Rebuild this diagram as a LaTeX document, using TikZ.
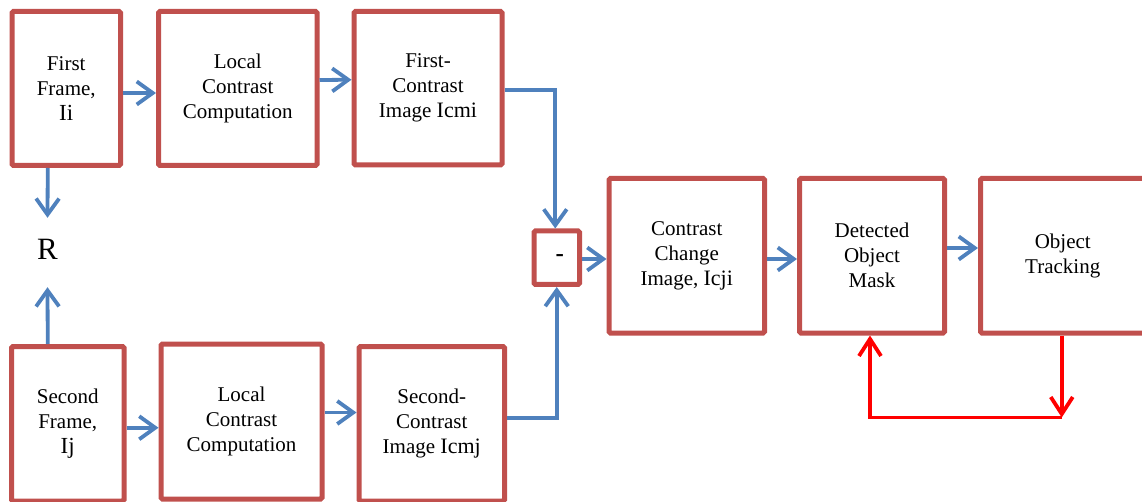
\documentclass[tikz,border=0pt]{standalone}
\usepackage{fontspec}
\setmainfont{Liberation Serif}
\usetikzlibrary{arrows.meta}
\definecolor{boxred}{HTML}{C0504D}
\definecolor{arrblue}{HTML}{4F81BD}
\definecolor{fbred}{HTML}{FF0000}
\begin{document}
\begin{tikzpicture}[x=1pt,y=-1pt,
  box/.style={draw=boxred, line width=5pt, rounded corners=1.5pt, inner sep=0pt,
    align=center, font=\fontsize{21}{25}\selectfont},
  barrow/.style={draw=arrblue, line width=3.8pt, line join=miter,
    -{Straight Barb[length=16pt,width=23pt]}},
  rarrow/.style={draw=fbred, line width=3.8pt,
    -{Straight Barb[length=17pt,width=22pt]}}
]
\useasboundingbox (0,0) rectangle (1142,502);

% top row
\node[box, minimum width=108.5pt, minimum height=154pt] (ff) at (66.25,88.5)
  {First\\Frame,\\{\fontsize{23}{25}\selectfont Ii}};
\node[box, minimum width=158.5pt, minimum height=154pt] (lc1) at (237.75,88.5)
  {Local\\Contrast\\Computation};
\node[box, minimum width=148pt, minimum height=153.5pt] (fc) at (428,88.25)
  {First-\\Contrast\\Image {\fontsize{22}{25}\selectfont Icmi}};

% R
\node[inner sep=0pt, minimum height=62pt, font=\fontsize{31}{31}\selectfont] (R) at (47.5,249) {R};

% bottom row
\node[box, minimum width=112.5pt, minimum height=154.5pt] (sf) at (67.75,423.75)
  {Second\\Frame,\\{\fontsize{23}{25}\selectfont Ij}};
\node[box, minimum width=161pt, minimum height=155pt] (lc2) at (241.5,421.5)
  {Local\\Contrast\\Computation};
\node[box, minimum width=145.5pt, minimum height=154.5pt] (sc) at (431.75,423.75)
  {Second-\\Contrast\\Image {\fontsize{22}{25}\selectfont Icmj}};

% minus
\node[box, minimum width=45.5pt, minimum height=53.5pt] (minus) at (556.75,257.75)
  {\hspace*{6pt}\raisebox{-4pt}{\fontsize{25}{25}\selectfont\textbf{-}}};

% right row
\node[box, minimum width=155.5pt, minimum height=154.5pt] (cc) at (686.75,255.75)
  {Contrast\\Change\\Image, {\fontsize{22}{25}\selectfont Icji}};
\node[box, minimum width=145pt, minimum height=154.5pt] (dom) at (872,255.75)
  {Detected\\Object\\Mask};
\node[box, minimum width=164.5pt, minimum height=154.5pt] (ot) at (1062.75,255.75)
  {Object\\Tracking};

% blue connectors
\draw[barrow] ([yshift=-4.5pt]ff.east) -- ([yshift=-4.5pt]lc1.west);
\draw[barrow] ([yshift=8.5pt]lc1.east) -- ([yshift=8.5pt]fc.west);
\draw[barrow] ([yshift=-1.75pt]fc.east) -| ([xshift=-1.5pt]minus.north);
\draw[barrow] ([xshift=-18.5pt]ff.south) -- (R.north);
\draw[barrow] ([xshift=-20pt]sf.north) -- ([yshift=-7pt]R.south);
\draw[barrow] ([yshift=-4pt]sf.east) -- ([yshift=-6.25pt]lc2.west);
\draw[barrow] ([yshift=9pt]lc2.east) -- ([yshift=11.25pt]sc.west);
\draw[barrow] ([yshift=5.75pt]sc.east) -| (minus.south);
\draw[barrow] ([yshift=-1.25pt]minus.east) coordinate (m1) -- (m1 -| cc.west);
\draw[barrow] ([yshift=-3.25pt]cc.east) -- ([yshift=-3.25pt]dom.west);
\draw[barrow] ([yshift=7.75pt]dom.east) -- ([yshift=7.75pt]ot.west);

% red feedback
\coordinate (fb) at (1061.75,417.5);
\draw[rarrow] ([xshift=-1pt]ot.south) -- (fb);
\draw[rarrow, line join=miter] (fb) -| ([xshift=-2pt]dom.south);
\end{tikzpicture}
\end{document}
